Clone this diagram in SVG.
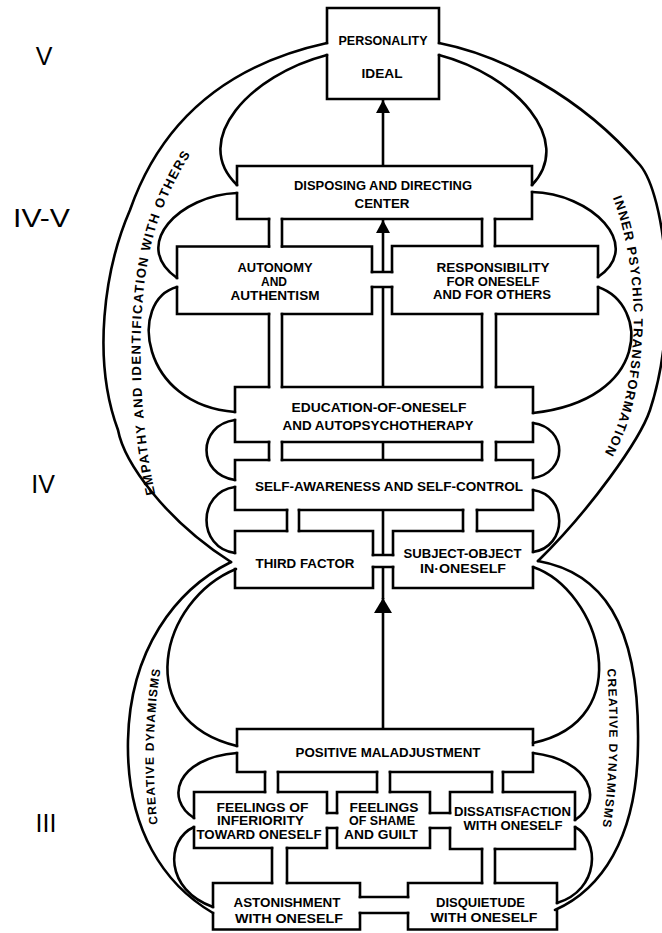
<svg xmlns="http://www.w3.org/2000/svg" width="662" height="933" viewBox="0 0 662 933">
<style>
.ln{fill:none;stroke:#000;stroke-width:2.6;stroke-linecap:square;stroke-linejoin:miter}
.cv{fill:none;stroke:#000;stroke-width:2.6;stroke-linecap:round}
.ar{fill:none;stroke:#000;stroke-width:2.6;stroke-linecap:butt}
.t{font-family:"Liberation Sans",Arial,sans-serif;font-weight:bold;font-size:13.5px;text-anchor:middle;fill:#000}
.lv{font-family:"Liberation Sans",Arial,sans-serif;font-size:25px;text-anchor:middle;fill:#000}
.ct{font-family:"Liberation Sans",Arial,sans-serif;font-weight:bold;font-size:13px;fill:#000}
</style>
<defs>
<marker id="ah" markerUnits="userSpaceOnUse" viewBox="0 0 13 14" refX="13" refY="7" markerWidth="13" markerHeight="14" orient="auto"><path d="M0,0 L13,7 L0,14 Z" fill="#000"/></marker>
<marker id="ahL" markerUnits="userSpaceOnUse" viewBox="0 0 15 18" refX="15" refY="9" markerWidth="15" markerHeight="18" orient="auto"><path d="M0,0 L15,9 L0,18 Z" fill="#000"/></marker>
<path id="pEmp" d="M156,497 C140,430 135,330 148,260 C155,220 172,180 200,140"/>
<path id="pIpt" d="M612,196 C630,240 636,300 633,340 C630,390 620,425 605,452"/>
<path id="pCdl" d="M158,826 C152,780 152,720 161,666"/>
<path id="pCdr" d="M607,667 C611,720 610,780 602,830"/>
</defs>
<rect width="662" height="933" fill="#fff"/>

<g id="levels">
<text class="lv" x="44" y="65">V</text>
<text class="lv" x="41.5" y="227" textLength="57" lengthAdjust="spacingAndGlyphs">IV-V</text>
<text class="lv" x="43" y="493">IV</text>
<text class="lv" x="46" y="832">III</text>
</g>

<g id="connectors">
<!-- outer arcs -->
<path class="cv" d="M327,43 C240,62 165,110 130,210 C104,270 92,360 118,430 C124,462 165,520 231,562"/>
<path class="cv" d="M439,43 C500,55 580,95 640,165 C665,195 680,320 650,410 C640,440 590,510 538,561"/>
<path class="cv" d="M231,562 C175,590 130,650 128,740 C126,830 165,885 213,913"/>
<path class="cv" d="M538,561 C600,572 640,620 638,745 C637,840 600,890 555,910"/>
<!-- inner curves left -->
<path class="cv" d="M327,55 C250,75 190,140 237,185"/>
<path class="cv" d="M237,193 C180,195 130,245 177,278"/>
<path class="cv" d="M177,287 C128,300 140,405 235,412"/>
<path class="cv" d="M235,420 C197,425 197,475 235,480"/>
<path class="cv" d="M235,487 C197,492 197,548 235,553"/>
<path class="cv" d="M236,569 C160,600 130,720 237,746"/>
<path class="cv" d="M237,753 C175,758 165,800 194,818"/>
<path class="cv" d="M194,827 C165,840 165,890 213,907"/>
<!-- inner curves right -->
<path class="cv" d="M439,55 C515,75 575,140 532,185"/>
<path class="cv" d="M532,192 C590,193 645,245 598,277"/>
<path class="cv" d="M598,287 C650,305 650,400 533,413"/>
<path class="cv" d="M533,423 C568,428 568,473 533,478"/>
<path class="cv" d="M533,490 C568,495 568,547 533,552"/>
<path class="cv" d="M533,567 C600,590 640,720 533,743"/>
<path class="cv" d="M533,753 C590,760 605,800 575,820"/>
<path class="cv" d="M575,827 C600,840 600,890 557,903"/>
<!-- channels -->
<path class="ln" d="M269,219 V246.5 M282,219 V246.5 M482,219 V246 M495,219 V246 M372,272 H392 M372,287 H392 M269,314 V387 M282,314 V387 M482,314 V387 M496,314 V387 M269,442 V460 M282,442 V460 M482,442 V460 M496,442 V460 M287,510 V531 M299,510 V531 M463,510 V531 M477,510 V531 M373,555 H393 M373,567 H393"/>
<path class="ln" d="M265,772 V792 M278,772 V792 M377,772 V792 M390,772 V792 M492,772 V792 M503,772 V792 M327,813 H337 M327,828 H337 M430,813 H450 M430,828 H450 M272,848 V883 M287,848 V883 M482,849 V883 M495,849 V883 M360,897 H408 M360,913 H408"/>
<!-- centre lines and arrows -->
<path class="ar" d="M383,287 V387 M383,442 V460 M383,510 V555 M383,599 V567"/>
<line class="ar" x1="383" y1="166" x2="383" y2="100" marker-end="url(#ah)"/>
<line class="ar" x1="383" y1="272" x2="383" y2="220" marker-end="url(#ah)"/>
<line class="ar" x1="383" y1="729" x2="383" y2="598" marker-end="url(#ahL)"/>
<!-- arc labels -->
<text class="ct"><textPath href="#pEmp" startOffset="3" textLength="350" lengthAdjust="spacing">EMPATHY AND IDENTIFICATION WITH OTHERS</textPath></text>
<text class="ct"><textPath href="#pIpt" startOffset="2" textLength="262" lengthAdjust="spacing">INNER PSYCHIC TRANSFORMATION</textPath></text>
<text class="ct" style="font-size:12px"><textPath href="#pCdl" startOffset="2" textLength="155" lengthAdjust="spacing">CREATIVE DYNAMISMS</textPath></text>
<text class="ct" style="font-size:12px"><textPath href="#pCdr" startOffset="2" textLength="158" lengthAdjust="spacing">CREATIVE DYNAMISMS</textPath></text>
</g>

<g id="personality">
<path class="ln" d="M327,43 V8 H439 V43 M439,55 V99 H327 V55"/>
<text class="t" x="383" y="45" textLength="89" lengthAdjust="spacingAndGlyphs">PERSONALITY</text>
<text class="t" x="382" y="78" textLength="41" lengthAdjust="spacingAndGlyphs">IDEAL</text>
</g>

<g id="disposing">
<path class="ln" d="M237,185 V166 H532 V185 M532,192 V219 H495 M482,219 H282 M269,219 H237 V193"/>
<text class="t" x="383" y="190" textLength="178" lengthAdjust="spacingAndGlyphs">DISPOSING AND DIRECTING</text>
<text class="t" x="382" y="208" textLength="55" lengthAdjust="spacingAndGlyphs">CENTER</text>
</g>

<g id="autonomy">
<path class="ln" d="M177,278 V246.5 H269 M282,246.5 H372 V272 M372,287 V314 H282 M269,314 H177 V287"/>
<text class="t" x="275" y="271.5" textLength="75" lengthAdjust="spacingAndGlyphs">AUTONOMY</text>
<text class="t" x="274" y="285.5" textLength="26" lengthAdjust="spacingAndGlyphs">AND</text>
<text class="t" x="275" y="300" textLength="89" lengthAdjust="spacingAndGlyphs">AUTHENTISM</text>
</g>

<g id="responsibility">
<path class="ln" d="M392,272 V246 H482 M495,246 H598 V277 M598,287 V314 H496 M482,314 H392 V287"/>
<text class="t" x="493" y="272" textLength="113" lengthAdjust="spacingAndGlyphs">RESPONSIBILITY</text>
<text class="t" x="493" y="285.5" textLength="93" lengthAdjust="spacingAndGlyphs">FOR ONESELF</text>
<text class="t" x="492" y="299" textLength="118" lengthAdjust="spacingAndGlyphs">AND FOR OTHERS</text>
</g>

<g id="education">
<path class="ln" d="M235,412 V387 H269 M282,387 H482 M496,387 H533 V413 M533,423 V442 H496 M482,442 H282 M269,442 H235 V420"/>
<text class="t" x="379" y="411.5" textLength="175" lengthAdjust="spacingAndGlyphs">EDUCATION-OF-ONESELF</text>
<text class="t" x="378" y="430" textLength="191" lengthAdjust="spacingAndGlyphs">AND AUTOPSYCHOTHERAPY</text>
</g>

<g id="self-awareness">
<path class="ln" d="M235,480 V460 H269 M282,460 H482 M496,460 H533 V478 M533,490 V510 H477 M463,510 H299 M287,510 H235 V487"/>
<text class="t" x="389" y="490.5" textLength="268" lengthAdjust="spacingAndGlyphs">SELF-AWARENESS AND SELF-CONTROL</text>
</g>

<g id="third-factor">
<path class="ln" d="M235,553 V531 H287 M299,531 H373 V555 M373,567 V588 H235 V569"/>
<text class="t" x="305" y="568" textLength="99" lengthAdjust="spacingAndGlyphs">THIRD FACTOR</text>
</g>

<g id="subject-object">
<path class="ln" d="M393,555 V531 H463 M477,531 H533 V552 M533,567 V588 H393 V567"/>
<text class="t" x="462.5" y="558" textLength="118" lengthAdjust="spacingAndGlyphs">SUBJECT-OBJECT</text>
<text class="t" x="463" y="573" textLength="86" lengthAdjust="spacingAndGlyphs">IN·ONESELF</text>
</g>

<g id="positive-maladjustment">
<path class="ln" d="M237,746 V729 H533 V745 M533,753 V772 H503 M492,772 H390 M377,772 H278 M265,772 H237 V753"/>
<text class="t" x="388" y="756.5" textLength="185" lengthAdjust="spacingAndGlyphs">POSITIVE MALADJUSTMENT</text>
</g>

<g id="inferiority">
<path class="ln" d="M194,818 V792 H265 M278,792 H327 V813 M327,828 V848 H287 M272,848 H194 V827"/>
<text class="t" x="262.5" y="811.5" textLength="92" lengthAdjust="spacingAndGlyphs">FEELINGS OF</text>
<text class="t" x="260.5" y="825" textLength="87" lengthAdjust="spacingAndGlyphs">INFERIORITY</text>
<text class="t" x="259" y="839" textLength="125" lengthAdjust="spacingAndGlyphs">TOWARD ONESELF</text>
</g>

<g id="shame-guilt">
<path class="ln" d="M337,813 V792 H377 M390,792 H430 V813 M430,828 V848 H337 V828"/>
<text class="t" x="384" y="811.5" textLength="69" lengthAdjust="spacingAndGlyphs">FEELINGS</text>
<text class="t" x="382" y="825" textLength="66" lengthAdjust="spacingAndGlyphs">OF SHAME</text>
<text class="t" x="381" y="839" textLength="74" lengthAdjust="spacingAndGlyphs">AND GUILT</text>
</g>

<g id="dissatisfaction">
<path class="ln" d="M450,813 V792 H492 M503,792 H575 V820 M575,827 V849 H495 M482,849 H450 V828"/>
<text class="t" x="512.5" y="815.5" textLength="117" lengthAdjust="spacingAndGlyphs">DISSATISFACTION</text>
<text class="t" x="513" y="830" textLength="99" lengthAdjust="spacingAndGlyphs">WITH ONESELF</text>
</g>

<g id="astonishment">
<path class="ln" d="M213,907 V883 H272 M287,883 H360 V897 M360,913 V929.5 H213 V913"/>
<text class="t" x="287" y="906.5" textLength="107" lengthAdjust="spacingAndGlyphs">ASTONISHMENT</text>
<text class="t" x="289" y="923" textLength="108" lengthAdjust="spacingAndGlyphs">WITH ONESELF</text>
</g>

<g id="disquietude">
<path class="ln" d="M408,897 V883 H482 M495,883 H557 V903 M557,911 V929.5 H408 V913"/>
<text class="t" x="480.5" y="906.5" textLength="89" lengthAdjust="spacingAndGlyphs">DISQUIETUDE</text>
<text class="t" x="484" y="921.5" textLength="107" lengthAdjust="spacingAndGlyphs">WITH ONESELF</text>
</g>
</svg>
